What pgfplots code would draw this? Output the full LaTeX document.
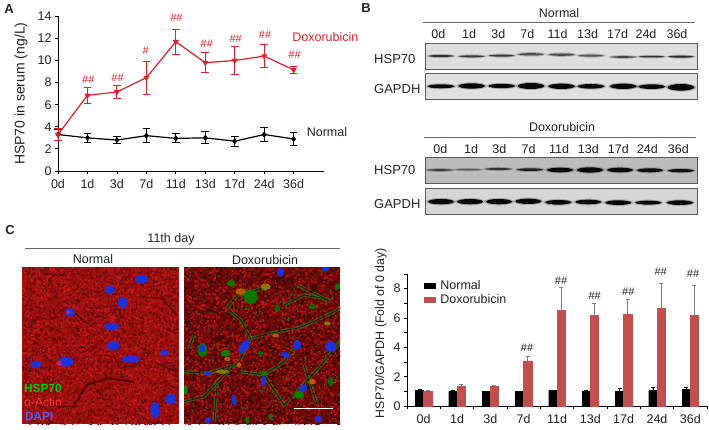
\documentclass[border=0pt]{standalone}
\usepackage{fontspec}
\setmainfont{Liberation Sans}
\usepackage{pgfplots}
\pgfplotsset{compat=1.18}
\definecolor{dred}{HTML}{D8232A}
\definecolor{barred}{HTML}{C0504D}
\definecolor{txt}{HTML}{222222}
\definecolor{nuc}{HTML}{1E30D8}
\newcommand{\fs}{\fontsize{12.5}{14}\selectfont}
\newcommand{\band}[5]{\fill[black,opacity=.22] (#1,#2) ellipse ({#3+6} and {#4+3});\fill[black,opacity=#5] (#1,#2) ellipse (#3 and #4);}
\newcommand{\speck}[7]{\fill[#1] foreach \i in {1,...,#2}{\pgfextra{\pgfmathsetmacro\a{#4+#6*rnd}\pgfmathsetmacro\b{#5+#7*rnd}} (\a,\b) rectangle ++(#3,#3)};}
\begin{document}
\begin{tikzpicture}[font=\fs,text=txt]
\path (0pt,0pt) rectangle (709pt,429pt);
% ---------------- Panel A
\begin{axis}[name=A,anchor=south west,at={(58pt,258pt)},scale only axis,width=266pt,height=154.7pt,
 xmin=0,xmax=9.03,ymin=0,ymax=14,axis lines*=left,clip=false,
 xtick={0,...,8},xticklabels={0d,1d,3d,7d,11d,13d,17d,24d,36d},ytick={0,2,...,14},
 tick align=outside,tick style={black,thick},major tick length=3pt,axis line style={black,line width=.7pt},
 xticklabel style={yshift=-2pt},
 /pgf/number format/assume math mode=true,
 ylabel={HSP70 in serum (ng/L)},ylabel style={at={(axis description cs:-0.139,0.5)},anchor=center,font=\fontsize{14}{16}\selectfont}]
\addplot[black,line width=1.2pt,mark=diamond*,mark size=2.2pt,error bars/.cd,y dir=both,y explicit,error bar style={line width=1pt},error mark options={rotate=90,mark size=3.8pt,line width=1pt}] coordinates {
(0,3.3) +- (0,0.5) (1,3.0) +- (0,0.4) (2,2.8) +- (0,0.35) (3,3.2) +- (0,0.65) (4,2.95) +- (0,0.4) (5,3.0) +- (0,0.55) (6,2.7) +- (0,0.45) (7,3.3) +- (0,0.65) (8,2.9) +- (0,0.55)};
\addplot[dred,line width=1.2pt,mark=triangle*,mark size=2.4pt,mark options={rotate=180},error bars/.cd,y dir=both,y explicit,error bar style={line width=1pt},error mark options={rotate=90,mark size=3.8pt,line width=1pt}] coordinates {
(0,3.3) +- (0,0.55) (1,6.85) +- (0,0.7) (2,7.15) +- (0,0.6) (3,8.45) +- (0,1.5) (4,11.7) +- (0,1.15) (5,9.8) +- (0,0.9) (6,10.0) +- (0,1.25) (7,10.4) +- (0,1.05) (8,9.15) +- (0,0.35)};
\node[dred,font=\fontsize{11}{13}\selectfont] at (axis cs:1.03,8.3) {\#\#};
\node[dred,font=\fontsize{11}{13}\selectfont] at (axis cs:2.02,8.42) {\#\#};
\node[dred,font=\fontsize{11}{13}\selectfont] at (axis cs:2.98,10.9) {\#};
\node[dred,font=\fontsize{11}{13}\selectfont] at (axis cs:4.02,13.85) {\#\#};
\node[dred,font=\fontsize{11}{13}\selectfont] at (axis cs:5.05,11.5) {\#\#};
\node[dred,font=\fontsize{11}{13}\selectfont] at (axis cs:6.03,12.0) {\#\#};
\node[dred,font=\fontsize{11}{13}\selectfont] at (axis cs:7.03,12.35) {\#\#};
\node[dred,font=\fontsize{11}{13}\selectfont] at (axis cs:8.03,10.5) {\#\#};
\node[dred,anchor=west,inner sep=0pt] at (axis cs:7.95,12.1) {Doxorubicin};
\node[anchor=west,inner sep=0pt] at (axis cs:8.44,3.56) {Normal};
\end{axis}
% ---------------- Panel D
\begin{axis}[name=D,anchor=south west,at={(407pt,23pt)},scale only axis,width=300pt,height=132pt,
 xmin=-0.5,xmax=8.5,ymin=0,ymax=9,axis lines*=left,clip=false,
 xtick={0,...,8},xticklabels={0d,1d,3d,7d,11d,13d,17d,24d,36d},
 minor xtick={-0.5,0.5,...,8.5},ytick={0,2,...,8},minor ytick={1,3,...,9},
 tick align=outside,tick style={black,thin},major tick length=3pt,minor tick length=3pt,major x tick style={draw=none},
 axis line style={black,line width=.6pt},xticklabel style={yshift=-2pt},
 /pgf/number format/assume math mode=true,
 ylabel={HSP70/GAPDH (Fold of 0 day)},ylabel style={at={(axis description cs:-0.087,0.553)},anchor=center,font=\fontsize{12.4}{14}\selectfont},
 ybar,bar width=8.3pt,
 legend cell align=left,
 legend style={at={(axis description cs:0.055,0.965)},anchor=north west,draw=none,fill=none,inner sep=0pt,row sep=1pt,nodes={inner sep=1.5pt},font=\fs},
 legend image code/.code={\fill[#1] (0pt,-2.5pt) rectangle (11pt,2.5pt);\path[draw=none,fill=none] (0pt,0pt) rectangle (15pt,1pt);}]
\addplot[fill=black,draw=black,bar shift=-4.15pt,error bars/.cd,y dir=plus,y explicit,error bar style={black,line width=.6pt},error mark options={rotate=90,mark size=2pt,black}] coordinates {
(0,1.05) +- (0,0.09) (1,1.04) +- (0,0.03) (2,0.98) +- (0,0.04) (3,1.02) +- (0,0.01) (4,1.07) +- (0,0.02) (5,0.98) +- (0,0.13) (6,0.98) +- (0,0.2) (7,1.05) +- (0,0.2) (8,1.12) +- (0,0.13)};
\addlegendentry{Normal}
\addplot[fill=barred,draw=barred,bar shift=4.15pt,error bars/.cd,y dir=plus,y explicit,error bar style={gray,line width=.7pt},error mark options={rotate=90,mark size=2pt,gray}] coordinates {
(0,1.0) +- (0,0.09) (1,1.32) +- (0,0.18) (2,1.36) +- (0,0.07) (3,3.07) +- (0,0.36) (4,6.5) +- (0,1.57) (5,6.16) +- (0,0.84) (6,6.25) +- (0,1.0) (7,6.64) +- (0,1.7) (8,6.16) +- (0,2.09)};
\addlegendentry{Doxorubicin}
\node[font=\fontsize{11}{13}\selectfont] at (axis cs:3.1,4.0) {\#\#};
\node[font=\fontsize{11}{13}\selectfont] at (axis cs:4.12,8.55) {\#\#};
\node[font=\fontsize{11}{13}\selectfont] at (axis cs:5.13,7.5) {\#\#};
\node[font=\fontsize{11}{13}\selectfont] at (axis cs:6.14,7.8) {\#\#};
\node[font=\fontsize{11}{13}\selectfont] at (axis cs:7.11,9.15) {\#\#};
\node[font=\fontsize{11}{13}\selectfont] at (axis cs:8.08,9.0) {\#\#};
\end{axis}
% ---------------- decorations in pixel coordinates
\begin{scope}[x=1pt,y=-1pt,yshift=429pt]
\node[font=\bfseries\fontsize{13}{15}\selectfont] at (9,9) {A};
\node[font=\bfseries\fontsize{13}{15}\selectfont] at (366,8) {B};
\node[font=\bfseries\fontsize{13}{15}\selectfont] at (10,230) {C};
% Panel B
\draw[gray!80!black,line width=.7pt] (423,22)--(695,22);
\draw[gray!80!black,line width=.7pt] (424,137)--(696,137);
\node at (559,13) {Normal};
\node at (562,127) {Doxorubicin};
\foreach \x/\t in {250/0d,342/1d,430/3d,517/7d,608/11d,698/13d,788/17d,873/24d,966/36d}
  \node at ({355+\x/3},34) {\t};
\foreach \x/\t in {256/0d,348/1d,433/3d,521/7d,612/11d,700/13d,790/17d,877/24d,970/36d}
  \node at ({355+\x/3},149) {\t};
\foreach \y/\t in {59/HSP70,89/GAPDH,170/HSP70,204/GAPDH}
  \node[anchor=west,inner sep=0pt,font=\fontsize{13}{15}\selectfont] at (374,\y) {\t};
\draw[gray!70!black,fill=black!13,line width=.7pt] (425,43) rectangle (697,69);
\draw[gray!70!black,fill=black!12,line width=.7pt] (425,73) rectangle (697,99);
\draw[gray!70!black,fill=black!26,line width=.7pt] (425,157) rectangle (697,183);
\draw[gray!70!black,fill=black!16,line width=.7pt] (425,188) rectangle (697,214);
\begin{scope}[shift={(355,0)},x=.3333pt,y=-.3333pt]
\foreach \x/\y/\h/\o in {258/168/3/.7,350/169/3/.65,440/167/3/.65,528/163/3.5/.55,620/164/3.5/.55,708/167/3/.5,805/171/2.5/.6,890/170/2.5/.7,978/170/3/.75}
  {\band{\x}{\y}{38}{\h}{\o}}
\foreach \x/\y/\h in {258/259/6,350/258/8,440/258/6.5,528/258/9,620/259/8,708/259/7,805/259/8,890/260/7,978/262/10}
  {\band{\x}{\y}{40}{\h}{.95}}
\foreach \x/\y/\h/\o in {255/510/2.5/.6,340/509/2/.4,430/507/3/.65,525/509/4/.8,615/510/7/.95,705/510/8/.95,795/510/7/.95,885/511/6/.9,978/512/5/.9}
  {\band{\x}{\y}{39}{\h}{\o}}
\foreach \x/\y/\h in {258/605/8,345/605/8,432/605/8,520/604/8,610/607/7,700/606/7,790/608/7,880/608/6,975/608/7}
  {\band{\x}{\y}{39}{\h}{.95}}
\end{scope}
% Panel C
\draw[gray!80!black,line width=.7pt] (25,248)--(340,248);
\node at (171,239) {11th day};
\node at (93,259) {Normal};
\node at (265,260) {Doxorubicin};
\pgfmathsetseed{4242}
\definecolor{rbase}{HTML}{9A0F0F}
\definecolor{rbright}{HTML}{CC1414}
\definecolor{rdark}{HTML}{620909}
% left micrograph
\begin{scope}
\clip (22,267) rectangle (179,424);
\fill[rbase] (22,267) rectangle (179,424);
\speck{rdark}{2300}{1.5}{22}{267}{157}{157}
\speck{rbright}{1500}{1.6}{22}{267}{157}{157}
\begin{scope}[shift={(0,215)},x=.3333pt,y=-.3333pt]
\begin{scope}[black!70!red,opacity=.85,line join=round,line cap=round]
\draw[line width=2pt] (220,575)--(260,510)--(320,490)--(400,500);
\draw[line width=1.3pt] (485,250)--(530,300);
\draw[line width=1.3pt] (220,290)--(260,325);
\draw[line width=1pt] (340,420)--(360,460)--(410,450);
\draw[line width=1.3pt] (470,445)--(530,470);
\draw[line width=1pt] (100,380)--(130,395);
\draw[line width=1pt] (130,175)--(190,180);
\draw[line width=1pt] (420,245)--(490,250);
\draw[line width=1.2pt] (100,570)--(220,575);
\end{scope}
\foreach \x/\y/\a/\b in {425/193/20/13,330/224/15/13,368/263/15/17,210/292/15/13,335/335/22/11,340/392/20/13,393/433/28/10,493/413/13/9,108/448/18/10,198/440/22/15,512/552/16/16,465/585/14/24}
  \fill[nuc] (\x,\y) ellipse ({\a*.3333pt} and {\b*.3333pt});
\fill[magenta!80!black,opacity=.8] (178,445) circle (2.5pt);
\fill[magenta!80!black,opacity=.8] (205,292) circle (2pt);
\end{scope}
\end{scope}
% right micrograph
\definecolor{sbase}{HTML}{700A0A}
\definecolor{sbright}{HTML}{C21212}
\definecolor{sdark}{HTML}{340505}
\definecolor{sgreen}{HTML}{357A1A}
\begin{scope}
\clip (184,267) rectangle (340,424);
\fill[sbase] (184,267) rectangle (340,424);
\speck{sdark}{2300}{1.6}{184}{267}{156}{157}
\speck{sbright}{1500}{1.6}{184}{267}{156}{157}
\speck{sgreen}{300}{1.1}{184}{267}{156}{157}
\begin{scope}[shift={(184,265)},x=.3333pt,y=-.3333pt]
\foreach \p in {{(0,410)--(60,395)--(110,340)--(165,290)--(200,220)--(170,165)--(130,130)},
 {(200,220)--(280,200)--(340,190)--(400,165)--(470,130)},
 {(0,320)--(70,325)--(150,300)},
 {(340,240)--(300,290)--(240,330)--(170,320)},
 {(240,330)--(300,420)--(340,380)--(420,290)--(470,230)},
 {(30,210)--(15,250)},
 {(130,130)--(160,90)--(240,70)},
 {(300,120)--(360,90)--(420,100)},
 {(340,60)--(440,110)},
 {(100,350)--(90,470)},
 {(360,300)--(400,420)}}
 {\draw[sgreen,line width=3.5pt,opacity=.6,line join=round,dash pattern=on 9pt off 1.5pt on 4pt off 2pt on 13pt off 1pt] \p;
  \draw[black,opacity=.7,line width=.7pt,line join=round] \p;}
\foreach \x/\y/\a/\b/\c in {200/95/22/22/green!50!black,142/55/12/10/green!50!black,245/65/15/10/olive,170/80/16/10/orange!75!black,280/130/8/12/green!45!black,385/125/10/8/green!45!black,55/255/15/20/green!50!black,125/265/15/10/green!55!black,130/282/10/6/orange!75!black,230/265/8/7/green!45!black,240/325/12/8/green!50!black,345/390/15/12/green!55!black,385/350/10/8/orange!80!black,5/375/6/15/green!55!black,440/350/8/15/green!45!black,460/65/8/10/green!50!black,190/465/6/10/green!50!black,260/455/6/10/green!50!black,470/230/6/10/green!50!black,430/175/10/6/olive,275/212/10/5/orange!80!black,115/320/20/6/olive,165/300/6/8/orange!80!black}
  \fill[\c,opacity=.9] (\x,\y) ellipse ({\a*.3333pt} and {\b*.3333pt});
\foreach \x/\y/\a/\b/\r in {290/22/11/13/0,425/12/12/6/0,180/245/12/24/-35,340/240/12/15/0,305/270/14/8/-20,440/245/17/17/0,70/325/12/6/0,238/348/8/15/0,358/370/12/12/0,150/405/7/18/10,72/465/9/9/0,403/462/12/9/0,55/250/9/12/0}
  \fill[nuc,rotate around={\r:(\x,\y)}] (\x,\y) ellipse ({\a*.3333pt} and {\b*.3333pt});
\end{scope}
\draw[white,line width=1pt] (294,408)--(333,408);
\end{scope}
\node[anchor=west,inner sep=0pt,font=\bfseries\fontsize{11.8}{13}\selectfont,text=green!82!black] at (24,388) {HSP70};
\node[anchor=west,inner sep=0pt,font=\fontsize{12}{13}\selectfont,text=red!80!white] at (24,402) {α-Actin};
\node[anchor=west,inner sep=0pt,font=\bfseries\fontsize{11.8}{13}\selectfont,text=blue!65!white] at (25,416) {DAPI};
\end{scope}
\end{tikzpicture}
\end{document}
